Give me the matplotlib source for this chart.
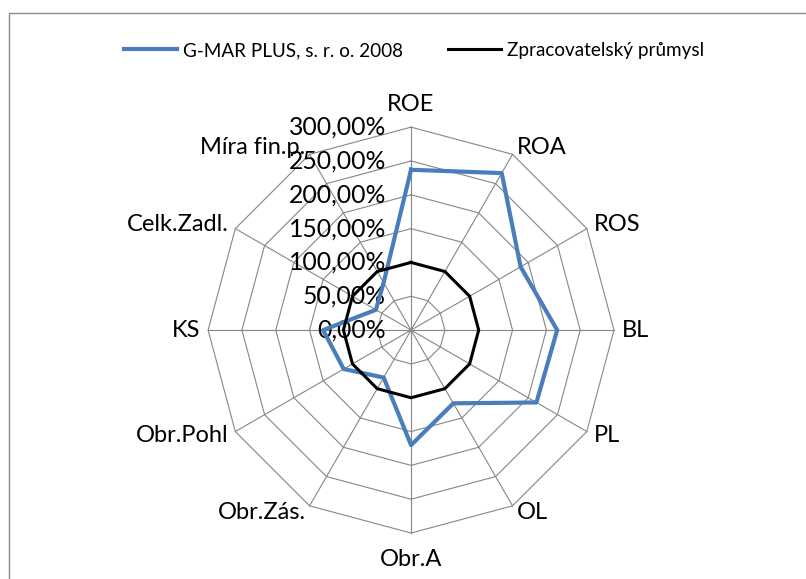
import matplotlib
matplotlib.use("Agg")
import matplotlib.pyplot as plt
import numpy as np
from matplotlib.patches import Rectangle

plt.rcParams['font.family'] = ['Lato', 'DejaVu Sans']

categories = ['ROE', 'ROA', 'ROS', 'BL', 'PL', 'OL', 'Obr.A', 'Obr.Zás.',
              'Obr.Pohl', 'KS', 'Celk.Zadl.', 'Míra fin.p.']
gmar = [237, 268, 187, 216, 214, 125, 170, 81, 115, 130, 60, 81]
prumysl = [100, 100, 100, 100, 100, 100, 100, 100, 100, 100, 100, 100]
rings = [50, 100, 150, 200, 250, 300]
ring_labels = ['0,00%', '50,00%', '100,00%', '150,00%', '200,00%', '250,00%', '300,00%']
series_names = ['G-MAR PLUS, s. r. o. 2008', 'Zpracovatelský průmysl']

fig = plt.figure(figsize=(8.06, 5.79), dpi=100)
# outer chart frame (cut off at right/bottom like the reference)
fig.patches.append(Rectangle((9/806, -0.1), 1.1, 1 - 13/579 + 0.1, transform=fig.transFigure,
                             fill=False, edgecolor='#8c8c8c', lw=1))

ax = fig.add_axes([0.258, 0.0794, 0.504, 0.701], projection='polar')
ax.set_theta_zero_location('N')
ax.set_theta_direction(-1)
ax.set_ylim(0, 300)
ax.grid(False)
ax.set_xticks([])
ax.set_yticks([])
ax.spines['polar'].set_visible(False)
ax.patch.set_visible(False)

n = len(categories)
theta = np.arange(n) * 2 * np.pi / n
theta_c = np.append(theta, theta[0])
grid_col = '#868686'

for r in rings:
    ax.plot(theta_c, [r] * (n + 1), color=grid_col, lw=0.8, clip_on=False, zorder=1)
for t in theta:
    ax.plot([t, t], [0, 300], color=grid_col, lw=0.8, clip_on=False, zorder=1)

g = ax.plot(theta_c, gmar + gmar[:1], color='#4a7ebb', lw=3.0, clip_on=False, zorder=3,
            label=series_names[0])
p = ax.plot(theta_c, prumysl + prumysl[:1], color='black', lw=2.2, clip_on=False, zorder=3,
            label=series_names[1])

# category labels
for t, lab in zip(theta, categories):
    s, c = np.sin(t), np.cos(t)
    if abs(s) < 0.01:
        ha = 'center'
        off = (0, 23) if c > 0 else (0, -26)
    else:
        ha = 'left' if s > 0 else 'right'
        off = (8 * s, 8 * c)
    ax.annotate(lab, xy=(t, 300), xytext=off, textcoords='offset pixels',
                ha=ha, va='center', fontsize=17, annotation_clip=False)

# radial tick labels along the ROE axis
for r, lab in zip([0] + rings, ring_labels):
    ax.annotate(lab, xy=(0, r), xytext=(-25, 0), textcoords='offset pixels',
                ha='right', va='center', fontsize=17.8, annotation_clip=False, zorder=2)

fig.legend(handles=[g[0], p[0]], loc='center', bbox_to_anchor=(0.514, 0.9126), ncol=2,
           frameon=False, fontsize=13.6, handlelength=2.8, columnspacing=2.4, handletextpad=0.3)

fig.savefig('out.png', dpi=100)
